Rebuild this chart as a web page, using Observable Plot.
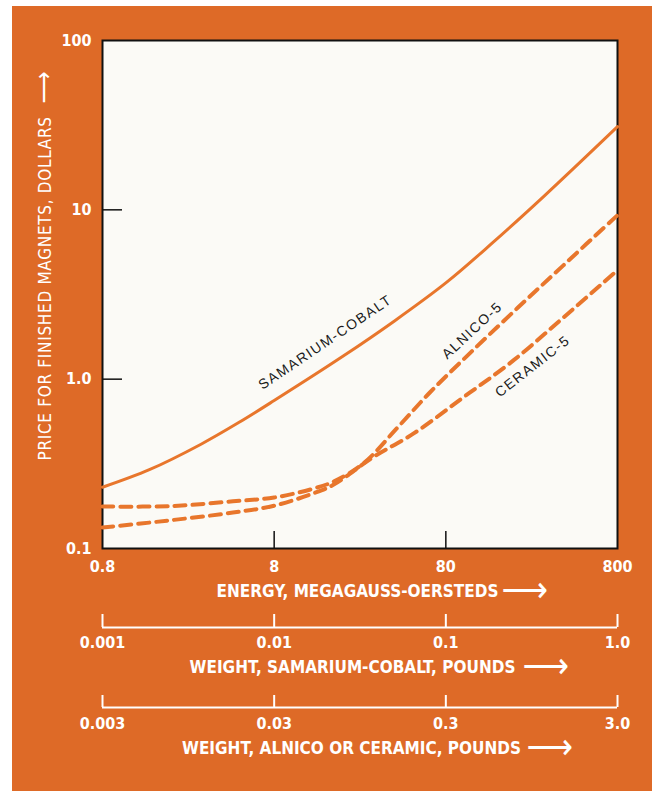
<!DOCTYPE html>
<html>
<head>
<meta charset="utf-8">
<script src="https://cdn.jsdelivr.net/npm/d3@7"></script>
<script src="https://cdn.jsdelivr.net/npm/@observablehq/plot@0.6"></script>
<style>
  html, body { margin: 0; padding: 0; background: #ffffff; }
  #bg { position: absolute; left: 12px; top: 6px; width: 640px; height: 785px; background: #de6a27; }
  #chart { position: absolute; left: 0; top: 0; width: 652px; }
  #chart svg { display: block; }
  text { font-stretch: condensed; }
</style>
</head>
<body>
<div id="bg"></div>
<div id="chart"></div>
<script>
// ---- data ----
const energyTicks = [0.8, 8, 80, 800];
const energyTickLabels = ["0.8", "8", "80", "800"];
const priceTicks = [0.1, 1, 10, 100];
const priceTickLabels = ["0.1", "1.0", "10", "100"];
const innerPriceTicks = [1, 10];
const innerEnergyTicks = [8, 80];

const scWeightTicks = [0.001, 0.01, 0.1, 1];
const scWeightLabels = ["0.001", "0.01", "0.1", "1.0"];
const acWeightTicks = [0.003, 0.03, 0.3, 3];
const acWeightLabels = ["0.003", "0.03", "0.3", "3.0"];

const samariumEnergy = [0.8, 1.5, 3, 5, 8, 20, 40, 80, 150, 300, 800];
const samariumPrice  = [0.23, 0.292, 0.413, 0.556, 0.748, 1.36, 2.2, 3.7, 6.4, 12.1, 31];

const alnicoEnergy = [0.8, 2, 4.6, 8, 13.6, 18, 26.5, 42, 65, 111, 209, 387, 800];
const alnicoPrice  = [0.177, 0.178, 0.19, 0.2, 0.226, 0.25, 0.318, 0.52, 0.84, 1.43, 2.63, 4.7, 9.3];

const ceramicEnergy = [0.8, 1.9, 4.6, 8, 13.6, 18, 30, 52, 101, 198, 387, 800];
const ceramicPrice  = [0.133, 0.146, 0.163, 0.179, 0.212, 0.24, 0.345, 0.478, 0.78, 1.29, 2.31, 4.4];

const curveLabels = ["SAMARIUM-COBALT", "ALNICO-5", "CERAMIC-5"];
const curveLabelEnergy = [15.9, 114, 256];
const curveLabelPrice = [1.65, 1.94, 1.19];
const curveLabelAngle = [-34, -43, -38];

const xTitle = "ENERGY, MEGAGAUSS-OERSTEDS";
const yTitle = "PRICE FOR FINISHED MAGNETS, DOLLARS";
const scTitle = "WEIGHT, SAMARIUM-COBALT, POUNDS";
const acTitle = "WEIGHT, ALNICO OR CERAMIC, POUNDS";
const arrowGlyph = "\u27F6";

// ---- build tables ----
const zip = (xs, ys) => xs.map((x, i) => ({x, y: ys[i]}));
const sc = zip(samariumEnergy, samariumPrice);
const al = zip(alnicoEnergy, alnicoPrice);
const ce = zip(ceramicEnergy, ceramicPrice);
const labelsTable = curveLabels.map((t, i) => ({t, x: curveLabelEnergy[i], y: curveLabelPrice[i], r: curveLabelAngle[i]}));

const ORANGE_LINE = "#e8762c";
const FONT = "'Liberation Sans Narrow', 'DejaVu Sans Condensed', 'Roboto Condensed', Arial, sans-serif";
const FONT_REG = "'Liberation Sans', Arial, 'DejaVu Sans', sans-serif";
const W = 652, ML = 102, MR = 35;

const main = Plot.plot({
  width: W, height: 600,
  marginLeft: ML, marginRight: MR, marginTop: 40, marginBottom: 52,
  style: {background: "transparent", fontFamily: FONT, overflow: "visible"},
  x: {type: "log", domain: [0.8, 800], axis: null},
  y: {type: "log", domain: [0.1, 100], axis: null},
  marks: [
    Plot.frame({fill: "#fbfaf6", stroke: "#111", strokeWidth: 2}),
    Plot.tickX(innerEnergyTicks, {x: d => d, insetTop: 491, stroke: "#111", strokeWidth: 1.5}),
    Plot.tickY(innerPriceTicks, {y: d => d, insetRight: 495, stroke: "#111", strokeWidth: 1.5}),
    Plot.line(sc, {x: "x", y: "y", curve: "catmull-rom", stroke: ORANGE_LINE, strokeWidth: 3}),
    Plot.line(al, {x: "x", y: "y", curve: "catmull-rom", stroke: ORANGE_LINE, strokeWidth: 4, strokeDasharray: "11,7"}),
    Plot.line(ce, {x: "x", y: "y", curve: "catmull-rom", stroke: ORANGE_LINE, strokeWidth: 4, strokeDasharray: "11,7"}),
    Plot.text(labelsTable, {x: "x", y: "y", text: "t", rotate: "r", fill: "#1a1a1a", fontSize: 14, fontFamily: FONT_REG}),
    Plot.text(priceTicks, {y: d => d, frameAnchor: "left", dx: -11, textAnchor: "end",
      text: (d, i) => priceTickLabels[i], fill: "white", fontSize: 16, fontWeight: "bold"}),
    Plot.text(energyTicks, {x: d => d, frameAnchor: "bottom", dy: 23,
      text: (d, i) => energyTickLabels[i], fill: "white", fontSize: 16, fontWeight: "bold"}),
    Plot.text([xTitle], {frameAnchor: "bottom", dx: -2.5, dy: 48, text: d => d, fill: "white", fontSize: 17, fontWeight: "bold"}),
    Plot.text([arrowGlyph], {frameAnchor: "bottom", dx: 141.5, dy: 53, textAnchor: "start", text: d => d, fill: "white", fontSize: 36}),
    Plot.text([yTitle], {frameAnchor: "bottom-left", dx: -52, dy: -88, rotate: -90, textAnchor: "start",
      text: d => d, fill: "white", fontSize: 17}),
    Plot.text([arrowGlyph], {frameAnchor: "top-left", dx: -68, dy: 63, rotate: -90, textAnchor: "start",
      text: d => d, fill: "white", fontSize: 25})
  ]
});

function weightAxis(ticks, labels, title, marginTop, lineY, labelDy, titleDy, titleDx, arrowDx) {
  return Plot.plot({
    width: W, height: 85,
    marginLeft: ML, marginRight: MR, marginTop, marginBottom: 85 - lineY,
    style: {background: "transparent", fontFamily: FONT, overflow: "visible"},
    x: {type: "log", domain: [ticks[0], ticks[ticks.length - 1]], axis: null},
    y: {domain: [0, 1], axis: null},
    marks: [
      Plot.ruleY([0], {stroke: "white", strokeWidth: 2}),
      Plot.ruleX(ticks, {x: d => d, y1: 0, y2: 1, stroke: "white", strokeWidth: 2}),
      Plot.text(ticks, {x: d => d, frameAnchor: "bottom", dy: labelDy, text: (d, i) => labels[i],
        fill: "white", fontSize: 16, fontWeight: "bold"}),
      Plot.text([title], {frameAnchor: "bottom", dx: titleDx, dy: titleDy, text: d => d,
        fill: "white", fontSize: 17, fontWeight: "bold"}),
      Plot.text([arrowGlyph], {frameAnchor: "bottom", dx: arrowDx, dy: titleDy + 5, textAnchor: "start", text: d => d,
        fill: "white", fontSize: 36})
    ]
  });
}

const scAxis = weightAxis(scWeightTicks, scWeightLabels, scTitle, 14, 27, 20, 45, -7.5, 162.5);
const acAxis = weightAxis(acWeightTicks, acWeightLabels, acTitle, 10, 22, 21, 46, -8.5, 166.5);

const chart = document.getElementById("chart");
chart.appendChild(main);
chart.appendChild(scAxis);
chart.appendChild(acAxis);

// letter spacing for the in-plot labels and the y title
main.querySelectorAll('g[fill="#1a1a1a"] text').forEach(t => t.style.letterSpacing = "1.5px");
main.querySelectorAll('text').forEach(t => { if (t.textContent === yTitle) t.style.letterSpacing = "0.7px"; });
</script>
</body>
</html>
